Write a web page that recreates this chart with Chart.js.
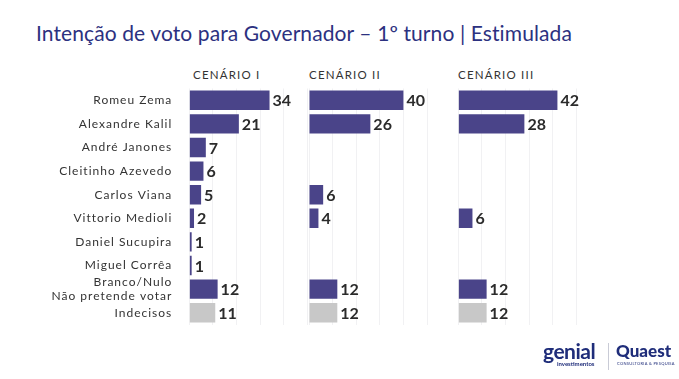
<!DOCTYPE html>
<html>
<head>
<meta charset="utf-8">
<script src="https://cdn.jsdelivr.net/npm/chart.js@4"></script>
<style>
  html, body { margin: 0; padding: 0; background: #fff; }
  #wrap { position: relative; width: 679px; height: 379px; overflow: hidden; font-family: 'Lato', 'Open Sans', sans-serif; }
  #wrap canvas { position: absolute; left: 0; top: 0; }
  .title { position: absolute; left: 36px; top: 20px; font-size: 21px; color: #2c3180; letter-spacing: 0.1px; white-space: nowrap; }
  .head { position: absolute; top: 68px; font-size: 11.5px; color: #333; letter-spacing: 1.2px; white-space: nowrap; }
  .genial { position: absolute; left: 543px; top: 338px; color: #1f2d7a; font-size: 21px; font-weight: 700; letter-spacing: -0.5px; }
  .genial small { position: absolute; left: 14px; top: 22px; font-size: 6px; letter-spacing: 0; font-weight: 700; }
  .sep { position: absolute; left: 608px; top: 343px; width: 1px; height: 27px; background: #c9cbd6; }
  .quaest { position: absolute; left: 616px; top: 340px; color: #1f2d7a; font-size: 17px; font-weight: 900; font-family: 'Lato', sans-serif; }
  .quaest small { position: absolute; left: 1px; top: 21px; font-size: 4px; white-space: nowrap; letter-spacing: 0.3px; font-weight: 400; }
</style>
</head>
<body>
<div id="wrap">
  <div class="title">Intenção de voto para Governador – 1º turno | Estimulada</div>
  <div class="head" style="left:193px">CENÁRIO I</div>
  <div class="head" style="left:309px">CENÁRIO II</div>
  <div class="head" style="left:458px">CENÁRIO III</div>
  <canvas id="c1" width="679" height="379"></canvas>
  <canvas id="c2" width="679" height="379"></canvas>
  <canvas id="c3" width="679" height="379"></canvas>
  <div class="genial">genial<small>investimentos</small></div>
  <div class="sep"></div>
  <div class="quaest">Quaest<small>CONSULTORIA &amp; PESQUISA</small></div>
</div>
<script>
// ---------- dados ----------
var candidatos = [
  'Romeu Zema', 'Alexandre Kalil', 'André Janones', 'Cleitinho Azevedo', 'Carlos Viana',
  'Vittorio Medioli', 'Daniel Sucupira', 'Miguel Corrêa', ['Branco/Nulo', 'Não pretende votar'], 'Indecisos'
];
var cenario1 = [34, 21, 7, 6, 5, 2, 1, 1, 12, 11];
var cenario2 = [40, 26, null, null, 6, 4, null, null, 12, 12];
var cenario3 = [42, 28, null, null, null, 6, null, null, 12, 12];
var xMax = 50;
var gridStep = 10;

var purple = '#4a4489';
var gray = '#c8c8c8';

// espaçamento entre letras nos rótulos do eixo
var spacing = {
  id: 'spacing',
  beforeDraw: function (chart) { chart.ctx.letterSpacing = '1px'; },
  afterDraw: function (chart) { chart.ctx.letterSpacing = '0px'; }
};

// rótulo de valor no fim de cada barra
var valueLabels = {
  id: 'valueLabels',
  afterDatasetsDraw: function (chart) {
    var ctx = chart.ctx;
    var meta = chart.getDatasetMeta(0);
    var data = chart.data.datasets[0].data;
    ctx.save();
    ctx.letterSpacing = '0px';
    ctx.fillStyle = '#2b2b2b';
    ctx.font = 'bold 16px Lato, sans-serif';
    ctx.textAlign = 'left';
    ctx.textBaseline = 'middle';
    meta.data.forEach(function (bar, i) {
      if (data[i] === null) return;
      ctx.fillText(String(data[i]), bar.x + 3, bar.y + 1);
    });
    ctx.restore();
  }
};

function makeChart(id, values, left, showLabels) {
  var plotW = xMax * 2.36;
  return new Chart(document.getElementById(id), {
    type: 'bar',
    data: {
      labels: candidatos,
      datasets: [{
        data: values,
        backgroundColor: values.map(function (v, i) { return i === values.length - 1 ? gray : purple; }),
        borderWidth: 0,
        categoryPercentage: 1,
        barPercentage: 0.82
      }]
    },
    options: {
      indexAxis: 'y',
      responsive: false,
      animation: false,
      layout: { padding: { left: showLabels ? 0 : left, right: 679 - left - plotW, top: 88.5, bottom: 379 - 324.5 } },
      plugins: { legend: { display: false }, tooltip: { enabled: false } },
      scales: {
        x: {
          min: 0,
          max: xMax,
          ticks: { display: false, stepSize: gridStep },
          grid: { color: '#f1f1f3', lineWidth: 1, drawTicks: false },
          border: { display: false }
        },
        y: {
          display: showLabels,
          afterFit: function (scale) { if (showLabels) scale.width = left; },
          ticks: { color: '#333', padding: 17, autoSkip: false, font: { family: 'Lato', size: 12 } },
          grid: { display: false, drawTicks: false },
          border: { display: false }
        }
      }
    },
    plugins: [spacing, valueLabels]
  });
}

makeChart('c1', cenario1, 189.3, true);
makeChart('c2', cenario2, 309, false);
makeChart('c3', cenario3, 458.3, false);
</script>
</body>
</html>
